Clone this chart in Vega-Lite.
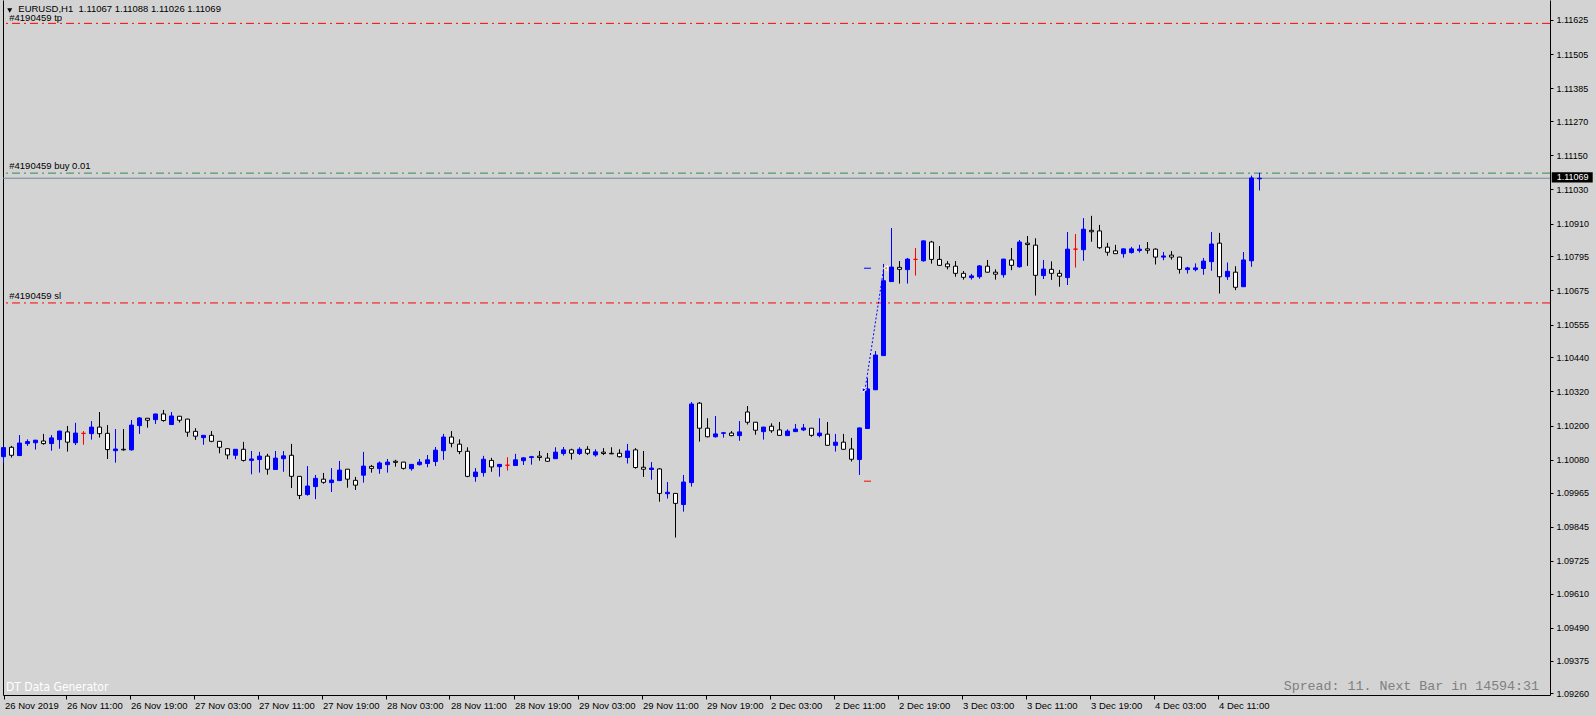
{
"$schema":"https://vega.github.io/schema/vega-lite/v6.json",
"width":1547,"height":695,
"autosize":{"type":"none"},
"padding":{"left":3,"top":0,"right":46,"bottom":21},
"background":"#D3D3D3",
"config":{"view":{"stroke":null},"font":"Liberation Sans","axis":{"grid":false,"title":null}},
"resolve":{"axis":{"y":"independent"}},
"datasets":{
"levels":[{"p":1.11613,"k":"tp"},{"p":1.11087,"k":"buy"},{"p":1.10631,"k":"sl"},{"p":1.11069,"k":"bid"}],
"candles":[
{"i":0,"o":1.10091,"h":1.10126,"l":1.10070,"c":1.10123},
{"i":1,"o":1.10124,"h":1.10129,"l":1.10088,"c":1.10096},
{"i":2,"o":1.10095,"h":1.10167,"l":1.10093,"c":1.10139},
{"i":3,"o":1.10137,"h":1.10152,"l":1.10129,"c":1.10144},
{"i":4,"o":1.10140,"h":1.10150,"l":1.10116,"c":1.10149},
{"i":5,"o":1.10146,"h":1.10171,"l":1.10133,"c":1.10137},
{"i":6,"o":1.10137,"h":1.10167,"l":1.10112,"c":1.10157},
{"i":7,"o":1.10151,"h":1.10182,"l":1.10119,"c":1.10181},
{"i":8,"o":1.10178,"h":1.10199,"l":1.10109,"c":1.10142},
{"i":9,"o":1.10140,"h":1.10210,"l":1.10132,"c":1.10174},
{"i":10,"o":1.10173,"h":1.10181,"l":1.10133,"c":1.10173},
{"i":11,"o":1.10172,"h":1.10216,"l":1.10151,"c":1.10195},
{"i":12,"o":1.10195,"h":1.10248,"l":1.10158,"c":1.10172},
{"i":13,"o":1.10173,"h":1.10202,"l":1.10083,"c":1.10116},
{"i":14,"o":1.10112,"h":1.10188,"l":1.10070,"c":1.10118},
{"i":15,"o":1.10117,"h":1.10188,"l":1.10112,"c":1.10115},
{"i":16,"o":1.10115,"h":1.10220,"l":1.10112,"c":1.10202},
{"i":17,"o":1.10200,"h":1.10230,"l":1.10171,"c":1.10227},
{"i":18,"o":1.10226,"h":1.10227,"l":1.10193,"c":1.10219},
{"i":19,"o":1.10221,"h":1.10242,"l":1.10206,"c":1.10241},
{"i":20,"o":1.10241,"h":1.10255,"l":1.10214,"c":1.10218},
{"i":21,"o":1.10204,"h":1.10248,"l":1.10203,"c":1.10234},
{"i":22,"o":1.10233,"h":1.10234,"l":1.10211,"c":1.10219},
{"i":23,"o":1.10223,"h":1.10224,"l":1.10161,"c":1.10177},
{"i":24,"o":1.10180,"h":1.10191,"l":1.10150,"c":1.10163},
{"i":25,"o":1.10158,"h":1.10167,"l":1.10133,"c":1.10166},
{"i":26,"o":1.10166,"h":1.10181,"l":1.10142,"c":1.10145},
{"i":27,"o":1.10145,"h":1.10146,"l":1.10103,"c":1.10124},
{"i":28,"o":1.10119,"h":1.10120,"l":1.10082,"c":1.10097},
{"i":29,"o":1.10096,"h":1.10118,"l":1.10082,"c":1.10117},
{"i":30,"o":1.10117,"h":1.10143,"l":1.10074,"c":1.10078},
{"i":31,"o":1.10078,"h":1.10111,"l":1.10029,"c":1.10083},
{"i":32,"o":1.10081,"h":1.10108,"l":1.10035,"c":1.10093},
{"i":33,"o":1.10093,"h":1.10101,"l":1.10028,"c":1.10047},
{"i":34,"o":1.10046,"h":1.10111,"l":1.10045,"c":1.10086},
{"i":35,"o":1.10084,"h":1.10111,"l":1.10038,"c":1.10094},
{"i":36,"o":1.10096,"h":1.10136,"l":1.09981,"c":1.10022},
{"i":37,"o":1.10022,"h":1.10023,"l":1.09942,"c":1.09955},
{"i":38,"o":1.09958,"h":1.10058,"l":1.09954,"c":1.09988},
{"i":39,"o":1.09986,"h":1.10027,"l":1.09942,"c":1.10015},
{"i":40,"o":1.10012,"h":1.10034,"l":1.09996,"c":1.10001},
{"i":41,"o":1.10000,"h":1.10051,"l":1.09967,"c":1.10009},
{"i":42,"o":1.10007,"h":1.10076,"l":1.10006,"c":1.10044},
{"i":43,"o":1.10047,"h":1.10048,"l":1.09982,"c":1.10012},
{"i":44,"o":1.10008,"h":1.10020,"l":1.09974,"c":1.09991},
{"i":45,"o":1.10026,"h":1.10108,"l":1.10000,"c":1.10058},
{"i":46,"o":1.10057,"h":1.10062,"l":1.10035,"c":1.10050},
{"i":47,"o":1.10049,"h":1.10074,"l":1.10031,"c":1.10069},
{"i":48,"o":1.10063,"h":1.10083,"l":1.10035,"c":1.10072},
{"i":49,"o":1.10075,"h":1.10080,"l":1.10056,"c":1.10071},
{"i":50,"o":1.10072,"h":1.10073,"l":1.10046,"c":1.10050},
{"i":51,"o":1.10049,"h":1.10065,"l":1.10042,"c":1.10064},
{"i":52,"o":1.10063,"h":1.10083,"l":1.10060,"c":1.10072},
{"i":53,"o":1.10067,"h":1.10097,"l":1.10054,"c":1.10080},
{"i":54,"o":1.10074,"h":1.10125,"l":1.10058,"c":1.10114},
{"i":55,"o":1.10112,"h":1.10171,"l":1.10080,"c":1.10160},
{"i":56,"o":1.10160,"h":1.10181,"l":1.10124,"c":1.10138},
{"i":57,"o":1.10135,"h":1.10152,"l":1.10100,"c":1.10109},
{"i":58,"o":1.10110,"h":1.10124,"l":1.10019,"c":1.10022},
{"i":59,"o":1.10021,"h":1.10051,"l":1.10003,"c":1.10037},
{"i":60,"o":1.10035,"h":1.10094,"l":1.10021,"c":1.10082},
{"i":61,"o":1.10078,"h":1.10087,"l":1.10038,"c":1.10055},
{"i":62,"o":1.10056,"h":1.10065,"l":1.10021,"c":1.10064},
{"i":63,"o":1.10061,"h":1.10089,"l":1.10042,"c":1.10061},
{"i":64,"o":1.10060,"h":1.10101,"l":1.10059,"c":1.10080},
{"i":65,"o":1.10077,"h":1.10088,"l":1.10062,"c":1.10087},
{"i":66,"o":1.10088,"h":1.10094,"l":1.10063,"c":1.10091},
{"i":67,"o":1.10093,"h":1.10111,"l":1.10077,"c":1.10088},
{"i":68,"o":1.10086,"h":1.10104,"l":1.10074,"c":1.10075},
{"i":69,"o":1.10084,"h":1.10124,"l":1.10083,"c":1.10107},
{"i":70,"o":1.10102,"h":1.10125,"l":1.10095,"c":1.10115},
{"i":71,"o":1.10115,"h":1.10119,"l":1.10081,"c":1.10103},
{"i":72,"o":1.10102,"h":1.10124,"l":1.10097,"c":1.10117},
{"i":73,"o":1.10117,"h":1.10128,"l":1.10097,"c":1.10103},
{"i":74,"o":1.10097,"h":1.10117,"l":1.10091,"c":1.10108},
{"i":75,"o":1.10107,"h":1.10121,"l":1.10097,"c":1.10102},
{"i":76,"o":1.10103,"h":1.10124,"l":1.10100,"c":1.10101},
{"i":77,"o":1.10103,"h":1.10117,"l":1.10088,"c":1.10091},
{"i":78,"o":1.10088,"h":1.10136,"l":1.10067,"c":1.10111},
{"i":79,"o":1.10115,"h":1.10121,"l":1.10049,"c":1.10053},
{"i":80,"o":1.10054,"h":1.10111,"l":1.10020,"c":1.10047},
{"i":81,"o":1.10046,"h":1.10072,"l":1.10010,"c":1.10051},
{"i":82,"o":1.10048,"h":1.10051,"l":1.09933,"c":1.09962},
{"i":83,"o":1.09961,"h":1.10002,"l":1.09944,"c":1.09966},
{"i":84,"o":1.09962,"h":1.09963,"l":1.09807,"c":1.09927},
{"i":85,"o":1.09923,"h":1.10027,"l":1.09898,"c":1.10002},
{"i":86,"o":1.10000,"h":1.10283,"l":1.09986,"c":1.10276},
{"i":87,"o":1.10279,"h":1.10283,"l":1.10144,"c":1.10191},
{"i":88,"o":1.10191,"h":1.10226,"l":1.10159,"c":1.10161},
{"i":89,"o":1.10161,"h":1.10234,"l":1.10158,"c":1.10171},
{"i":90,"o":1.10173,"h":1.10178,"l":1.10158,"c":1.10175},
{"i":91,"o":1.10174,"h":1.10181,"l":1.10163,"c":1.10165},
{"i":92,"o":1.10165,"h":1.10216,"l":1.10147,"c":1.10178},
{"i":93,"o":1.10248,"h":1.10269,"l":1.10204,"c":1.10212},
{"i":94,"o":1.10212,"h":1.10213,"l":1.10168,"c":1.10184},
{"i":95,"o":1.10179,"h":1.10196,"l":1.10151,"c":1.10195},
{"i":96,"o":1.10198,"h":1.10208,"l":1.10175,"c":1.10182},
{"i":97,"o":1.10185,"h":1.10213,"l":1.10165,"c":1.10166},
{"i":98,"o":1.10165,"h":1.10187,"l":1.10164,"c":1.10181},
{"i":99,"o":1.10179,"h":1.10206,"l":1.10178,"c":1.10188},
{"i":100,"o":1.10185,"h":1.10206,"l":1.10181,"c":1.10192},
{"i":101,"o":1.10191,"h":1.10192,"l":1.10161,"c":1.10166},
{"i":102,"o":1.10165,"h":1.10226,"l":1.10159,"c":1.10174},
{"i":103,"o":1.10170,"h":1.10213,"l":1.10130,"c":1.10131},
{"i":104,"o":1.10131,"h":1.10171,"l":1.10109,"c":1.10142},
{"i":105,"o":1.10142,"h":1.10171,"l":1.10116,"c":1.10117},
{"i":106,"o":1.10118,"h":1.10157,"l":1.10074,"c":1.10082},
{"i":107,"o":1.10081,"h":1.10193,"l":1.10027,"c":1.10192},
{"i":108,"o":1.10190,"h":1.10367,"l":1.10189,"c":1.10329},
{"i":109,"o":1.10326,"h":1.10462,"l":1.10325,"c":1.10448},
{"i":110,"o":1.10446,"h":1.10768,"l":1.10445,"c":1.10709},
{"i":111,"o":1.10706,"h":1.10894,"l":1.10705,"c":1.10757},
{"i":112,"o":1.10756,"h":1.10778,"l":1.10699,"c":1.10749},
{"i":113,"o":1.10748,"h":1.10789,"l":1.10699,"c":1.10785},
{"i":114,"o":1.10784,"h":1.10824,"l":1.10727,"c":1.10784},
{"i":115,"o":1.10779,"h":1.10850,"l":1.10776,"c":1.10849},
{"i":116,"o":1.10845,"h":1.10849,"l":1.10769,"c":1.10784},
{"i":117,"o":1.10784,"h":1.10831,"l":1.10761,"c":1.10763},
{"i":118,"o":1.10768,"h":1.10778,"l":1.10749,"c":1.10758},
{"i":119,"o":1.10760,"h":1.10778,"l":1.10723,"c":1.10735},
{"i":120,"o":1.10735,"h":1.10743,"l":1.10713,"c":1.10721},
{"i":121,"o":1.10720,"h":1.10733,"l":1.10713,"c":1.10726},
{"i":122,"o":1.10723,"h":1.10764,"l":1.10716,"c":1.10761},
{"i":123,"o":1.10760,"h":1.10782,"l":1.10738,"c":1.10739},
{"i":124,"o":1.10739,"h":1.10749,"l":1.10713,"c":1.10732},
{"i":125,"o":1.10730,"h":1.10786,"l":1.10720,"c":1.10785},
{"i":126,"o":1.10782,"h":1.10824,"l":1.10746,"c":1.10763},
{"i":127,"o":1.10758,"h":1.10852,"l":1.10755,"c":1.10845},
{"i":128,"o":1.10841,"h":1.10866,"l":1.10761,"c":1.10836},
{"i":129,"o":1.10834,"h":1.10858,"l":1.10657,"c":1.10728},
{"i":130,"o":1.10727,"h":1.10782,"l":1.10715,"c":1.10750},
{"i":131,"o":1.10749,"h":1.10777,"l":1.10712,"c":1.10735},
{"i":132,"o":1.10735,"h":1.10747,"l":1.10688,"c":1.10725},
{"i":133,"o":1.10720,"h":1.10880,"l":1.10694,"c":1.10820},
{"i":134,"o":1.10820,"h":1.10873,"l":1.10755,"c":1.10820},
{"i":135,"o":1.10818,"h":1.10929,"l":1.10779,"c":1.10890},
{"i":136,"o":1.10886,"h":1.10937,"l":1.10846,"c":1.10881},
{"i":137,"o":1.10884,"h":1.10905,"l":1.10821,"c":1.10825},
{"i":138,"o":1.10827,"h":1.10842,"l":1.10797,"c":1.10809},
{"i":139,"o":1.10814,"h":1.10835,"l":1.10803,"c":1.10804},
{"i":140,"o":1.10804,"h":1.10822,"l":1.10790,"c":1.10821},
{"i":141,"o":1.10808,"h":1.10828,"l":1.10804,"c":1.10821},
{"i":142,"o":1.10815,"h":1.10835,"l":1.10808,"c":1.10820},
{"i":143,"o":1.10821,"h":1.10845,"l":1.10804,"c":1.10816},
{"i":144,"o":1.10820,"h":1.10823,"l":1.10766,"c":1.10792},
{"i":145,"o":1.10792,"h":1.10810,"l":1.10781,"c":1.10796},
{"i":146,"o":1.10799,"h":1.10813,"l":1.10783,"c":1.10792},
{"i":147,"o":1.10792,"h":1.10793,"l":1.10734,"c":1.10749},
{"i":148,"o":1.10748,"h":1.10758,"l":1.10734,"c":1.10754},
{"i":149,"o":1.10748,"h":1.10770,"l":1.10742,"c":1.10754},
{"i":150,"o":1.10752,"h":1.10789,"l":1.10730,"c":1.10778},
{"i":151,"o":1.10776,"h":1.10880,"l":1.10744,"c":1.10838},
{"i":152,"o":1.10841,"h":1.10877,"l":1.10664,"c":1.10723},
{"i":153,"o":1.10723,"h":1.10773,"l":1.10712,"c":1.10742},
{"i":154,"o":1.10739,"h":1.10760,"l":1.10676,"c":1.10686},
{"i":155,"o":1.10688,"h":1.10810,"l":1.10687,"c":1.10782},
{"i":156,"o":1.10779,"h":1.11078,"l":1.10758,"c":1.11070},
{"i":157,"o":1.11067,"h":1.11088,"l":1.11026,"c":1.11069}
]},
"layer":[
{"data":{"name":"levels"},"mark":{"type":"rule","strokeWidth":1},
 "encoding":{
  "y":{"field":"p","type":"quantitative","scale":{"domain":[1.09254,1.11695],"nice":false,"zero":false,"padding":0},
       "axis":{"orient":"left","labels":false,"ticks":false,"domainColor":"#000000","domainWidth":1,"title":null}},
  "color":{"field":"k","type":"nominal","scale":{"domain":["tp","buy","sl","bid"],"range":["#FF0000","#2E8B57","#FF0000","#778899"]},"legend":null},
  "strokeDash":{"field":"k","type":"nominal","scale":{"domain":["tp","buy","sl","bid"],"range":[[8,4,2,4],[8,4,2,4],[8,4,2,4],[1,0]]},"legend":null}}},
{"data":{"name":"candles"},"mark":{"type":"rule","strokeWidth":1},
 "encoding":{
  "x":{"field":"i","type":"quantitative","scale":{"domain":[-0.0625,193.3125],"nice":false,"zero":false,"padding":0},
       "axis":{"orient":"bottom","values":[0,7.75,15.75,23.75,31.75,39.75,47.75,55.75,63.75,71.75,79.75,87.75,95.75,103.75,111.75,119.75,127.75,135.75,143.75,151.75],
        "labelExpr":"['26 Nov 2019','26 Nov 11:00','26 Nov 19:00','27 Nov 03:00','27 Nov 11:00','27 Nov 19:00','28 Nov 03:00','28 Nov 11:00','28 Nov 19:00','29 Nov 03:00','29 Nov 11:00','29 Nov 19:00','2 Dec 03:00','2 Dec 11:00','2 Dec 19:00','3 Dec 03:00','3 Dec 11:00','3 Dec 19:00','4 Dec 03:00','4 Dec 11:00'][round(datum.value/8)]",
        "labelAlign":"left","labelBaseline":"top","labelPadding":1,"labelOffset":1,"labelFontSize":9.5,"labelColor":"#000000","labelFont":"Liberation Sans",
        "tickSize":4,"tickColor":"#000000","domainColor":"#000000","domainWidth":1,"labelFlush":false,"labelOverlap":false,"labelBound":false,"title":null}},
  "y":{"field":"l","type":"quantitative",
       "axis":{"orient":"right","values":[1.0926,1.09375,1.0949,1.0961,1.09725,1.09845,1.09965,1.1008,1.102,1.1032,1.1044,1.10555,1.10675,1.10795,1.1091,1.1103,1.1115,1.1127,1.11385,1.11505,1.11625],
        "format":".5f","labelFontSize":9,"labelColor":"#000000","labelFont":"Liberation Sans","labelPadding":3,"tickSize":3,"tickColor":"#000000","domainColor":"#000000","labelFlush":false,"labelOverlap":false,"labelBound":false,"title":null}},
  "y2":{"field":"h"},
  "color":{"condition":[{"test":"datum.c>datum.o","value":"#0000FF"},{"test":"datum.c==datum.o","value":"#FF0000"}],"value":"#000000"}}},
{"data":{"name":"candles"},"mark":{"type":"bar","size":4,"strokeWidth":1},
 "encoding":{
  "x":{"field":"i","type":"quantitative"},
  "y":{"field":"o","type":"quantitative","axis":null},
  "y2":{"field":"c"},
  "fill":{"condition":[{"test":"datum.c>datum.o","value":"#0000FF"},{"test":"datum.c==datum.o","value":"#FF0000"}],"value":"#FFFFFF"},
  "stroke":{"condition":[{"test":"datum.c>datum.o","value":"#0000FF"},{"test":"datum.c==datum.o","value":"#FF0000"}],"value":"#000000"}}},
{"data":{"values":[{"x":107.75,"y":1.10337,"x2":110.0,"y2":1.10747}]},"mark":{"type":"rule","color":"#0000FF","strokeDash":[2,2],"strokeWidth":1},
 "encoding":{"x":{"field":"x","type":"quantitative"},"y":{"field":"y","type":"quantitative","axis":null},"x2":{"field":"x2"},"y2":{"field":"y2"}}},
{"data":{"values":[{"x":107.56,"x2":108.44,"y":1.10753}]},"mark":{"type":"rule","color":"#0000FF","strokeWidth":1},
 "encoding":{"x":{"field":"x","type":"quantitative"},"x2":{"field":"x2"},"y":{"field":"y","type":"quantitative","axis":null}}},
{"data":{"values":[{"x":107.56,"x2":108.44,"y":1.10005}]},"mark":{"type":"rule","color":"#FF0000","strokeWidth":1},
 "encoding":{"x":{"field":"x","type":"quantitative"},"x2":{"field":"x2"},"y":{"field":"y","type":"quantitative","axis":null}}},
{"data":{"values":[{"x":107.6,"y":1.10326}]},"mark":{"type":"point","shape":"triangle-right","filled":true,"fill":"#0000FF","stroke":"#FFFFFF","strokeWidth":1,"size":25,"opacity":1},
 "encoding":{"x":{"field":"x","type":"quantitative"},"y":{"field":"y","type":"quantitative","axis":null}}},
{"data":{"values":[{"x":110.25,"y":1.10753}]},"mark":{"type":"point","shape":"triangle-left","filled":true,"fill":"#DAA520","stroke":"#FFFFFF","strokeWidth":1,"size":25,"opacity":1},
 "encoding":{"x":{"field":"x","type":"quantitative"},"y":{"field":"y","type":"quantitative","axis":null}}},
{"data":{"values":[{"x":0.72,"y":1.11633,"t":"#4190459 tp"},{"x":0.72,"y":1.11112,"t":"#4190459 buy 0.01"},{"x":0.72,"y":1.10656,"t":"#4190459 sl"},{"x":1.85,"y":1.11662,"t":"EURUSD,H1\u00a0 1.11067 1.11088 1.11026 1.11069"}]},
 "mark":{"type":"text","align":"left","baseline":"middle","fontSize":9.5,"font":"Liberation Sans","color":"#000000"},
 "encoding":{"x":{"field":"x","type":"quantitative"},"y":{"field":"y","type":"quantitative","axis":null},"text":{"field":"t"}}},
{"data":{"values":[{"x":0.78,"y":1.11658}]},"mark":{"type":"point","shape":"triangle-down","filled":true,"color":"#000000","size":25,"opacity":1},
 "encoding":{"x":{"field":"x","type":"quantitative"},"y":{"field":"y","type":"quantitative","axis":null}}},
{"data":{"values":[{"x":0.31,"y":1.09282,"t":"DT Data Generator"}]},
 "mark":{"type":"text","align":"left","baseline":"middle","fontSize":12,"font":"Liberation Sans Narrow, DejaVu Sans Condensed","color":"#FFFFFF"},
 "encoding":{"x":{"field":"x","type":"quantitative"},"y":{"field":"y","type":"quantitative","axis":null},"text":{"field":"t"}}},
{"data":{"values":[{"x":191.94,"y":1.09286,"t":"Spread: 11. Next Bar in 14594:31"}]},
 "mark":{"type":"text","align":"right","baseline":"middle","fontSize":13.3,"font":"Liberation Mono","color":"#808080"},
 "encoding":{"x":{"field":"x","type":"quantitative"},"y":{"field":"y","type":"quantitative","axis":null},"text":{"field":"t"}}},
{"data":{"values":[{"x":193.53,"x2":198.65,"y":1.11054,"y2":1.1109}]},"mark":{"type":"rect","color":"#000000","opacity":1},
 "encoding":{"x":{"field":"x","type":"quantitative"},"x2":{"field":"x2"},"y":{"field":"y","type":"quantitative","axis":null},"y2":{"field":"y2"}}},
{"data":{"values":[{"x":194.15,"y":1.11072,"t":"1.11069"}]},
 "mark":{"type":"text","align":"left","baseline":"middle","fontSize":9,"font":"Liberation Sans","color":"#FFFFFF"},
 "encoding":{"x":{"field":"x","type":"quantitative"},"y":{"field":"y","type":"quantitative","axis":null},"text":{"field":"t"}}}
]
}
